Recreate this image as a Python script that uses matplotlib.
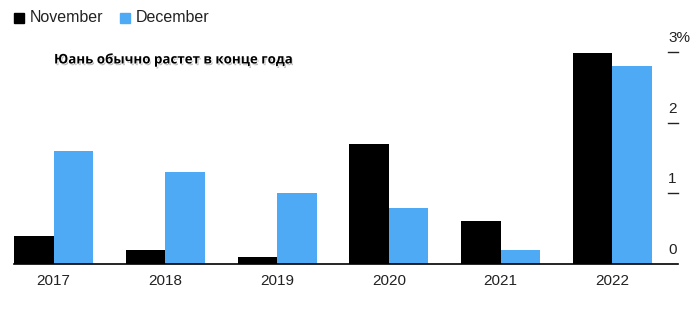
import matplotlib
matplotlib.use("Agg")
import matplotlib.pyplot as plt
import matplotlib.patheffects as pe
import numpy as np

# data
years = ["2017", "2018", "2019", "2020", "2021", "2022"]
november = [0.40, 0.20, 0.10, 1.70, 0.61, 2.98]
december = [1.60, 1.30, 1.00, 0.79, 0.20, 2.80]
yticks = [0, 1, 2, 3]
ytick_labels = ["0", "1", "2", "3%"]

black = "#000000"
blue = "#4faaf6"

plt.rcParams["font.family"] = ["Liberation Sans", "DejaVu Sans"]

fig = plt.figure(figsize=(7, 3.11), dpi=100)
ax = fig.add_axes([0.02, 0.151, 0.9486, 0.682])

x = np.arange(len(years))
w = 0.354
ax.bar(x - w / 2, november, width=w, color=black, linewidth=0)
ax.bar(x + w / 2, december, width=w, color=blue, linewidth=0)

ax.set_xlim(-0.354, 5.588)
ax.set_ylim(0, 3)
for s in ["top", "right", "left"]:
    ax.spines[s].set_visible(False)
ax.spines["bottom"].set_linewidth(1.2)
ax.spines["bottom"].set_color("#000000")

ax.set_xticks(x)
ax.set_xticklabels(years, fontsize=11, color="#222222")
ax.tick_params(axis="x", length=0, pad=7)
ax.set_yticks([])

# right-hand value labels sitting above short tick lines
trans = ax.get_yaxis_transform()
for v, lab in zip(yticks, ytick_labels):
    if v > 0:
        ax.plot([0.985, 1.0], [v, v], transform=trans, color="#222222",
                linewidth=1, clip_on=False)
    ax.text(0.985, v + 0.1, lab, transform=trans, ha="left", va="bottom",
            fontsize=11, color="#222222", clip_on=False)

# legend
fig.patches.append(plt.Rectangle((14 / 700, 1 - 23 / 311), 10 / 700, 10 / 311,
                                 transform=fig.transFigure, color=black))
fig.text(30 / 700, 1 - 18 / 311, "November", fontsize=11.5, va="center",
         color="#222222")
fig.patches.append(plt.Rectangle((120 / 700, 1 - 23 / 311), 10 / 700, 10 / 311,
                                 transform=fig.transFigure, color=blue))
fig.text(136 / 700, 1 - 18 / 311, "December", fontsize=11.5, va="center",
         color="#222222")

# overlay caption
fig.text(54 / 700, 1 - 60 / 311, "Юань обычно растет в конце года",
         fontsize=9.6, fontweight="bold", family=["Open Sans", "DejaVu Sans"],
         va="center", color="#000000",
         path_effects=[pe.SimplePatchShadow(offset=(0.9, -1.2),
                                            shadow_rgbFace="#888888",
                                            alpha=0.6),
                       pe.Stroke(linewidth=1.2, foreground="white"),
                       pe.Normal()])

fig.savefig("out.png", dpi=100)
